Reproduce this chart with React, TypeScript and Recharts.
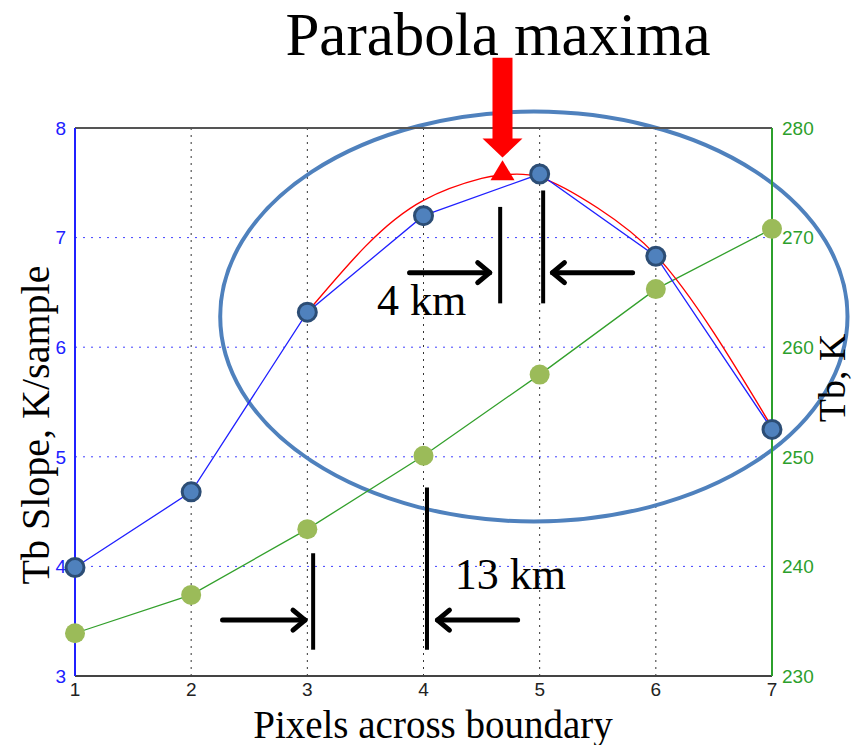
import React from 'react';
import {
  ComposedChart, Line, XAxis, YAxis, CartesianGrid,
  ReferenceLine, ReferenceArea, ReferenceDot,
} from 'recharts';

// Pixel index across the boundary
const pixels = [1, 2, 3, 4, 5, 6, 7];
// Tb slope, K/sample (left axis)
const slope = [3.99, 4.68, 6.32, 7.2, 7.58, 6.83, 5.25];
// Brightness temperature, K (right axis)
const tb = [233.9, 237.4, 243.4, 250.1, 257.5, 265.3, 270.8];
// Parabola fitted through the slope peak
const fitX = [3, 3.5, 4, 4.5, 4.68, 5, 5.5, 6, 6.5, 7];
const fitY = [6.32, 6.92, 7.34, 7.54, 7.57, 7.55, 7.27, 6.84, 6.13, 5.27];
const peak = { x: 4.68, y: 7.57 };

const leftTicks = [3, 4, 5, 6, 7, 8];
const rightTicks = [230, 240, 250, 260, 270, 280];

// annotation geometry in data units (x, left-axis y)
const barsTop = [
  { x: 4.66, y1: 7.28, y2: 6.4 },
  { x: 5.03, y1: 7.43, y2: 6.4 },
];
const arrowsTop = [
  { from: [3.88, 6.68], to: [4.57, 6.68] },
  { from: [5.8, 6.68], to: [5.11, 6.68] },
];
const barsBottom = [
  { x: 3.05, y1: 4.12, y2: 3.24 },
  { x: 4.03, y1: 4.72, y2: 3.24 },
];
const arrowsBottom = [
  { from: [2.27, 3.51], to: [2.98, 3.51] },
  { from: [4.81, 3.51], to: [4.12, 3.51] },
];
const ellipseBox = { x1: 2.25, x2: 7.65, y1: 4.41, y2: 8.15 };
const maxArrow = { x: 4.68, top: 8.64, tip: 7.73 };

const slopeData = pixels.map((x, i) => ({ x, slope: slope[i] }));
const tbData = pixels.map((x, i) => ({ x, tb: tb[i] }));
const fitData = fitX.map((x, i) => ({ x, fit: fitY[i] }));

const SERIF = "'Liberation Serif', 'DejaVu Serif', serif";
const SANS = "'Liberation Sans Narrow', 'Liberation Sans', Arial, sans-serif";

const Arrow = (p: any) => {
  const { x1, y1, x2, y2 } = p;
  const dir = Math.sign(x2 - x1);
  return (
    <g stroke="#000" strokeWidth={5} fill="none" strokeLinecap="round" strokeLinejoin="round">
      <line x1={x1} y1={y1} x2={x2} y2={y2} />
      <polyline points={`${x2 - dir * 12},${y2 - 10} ${x2},${y2} ${x2 - dir * 12},${y2 + 10}`} />
    </g>
  );
};

const RedArrow = (p: any) => {
  const { x1, y1, y2 } = p;
  const headY = y2 - 19;
  return (
    <polygon
      fill="#ff0000"
      points={`${x1 - 10},${y1} ${x1 + 10},${y1} ${x1 + 10},${headY} ${x1 + 20},${headY} ${x1},${y2} ${x1 - 20},${headY} ${x1 - 10},${headY}`}
    />
  );
};

const Ellipse = (p: any) => (
  <ellipse
    cx={p.x + p.width / 2}
    cy={p.y + p.height / 2}
    rx={p.width / 2}
    ry={p.height / 2}
    fill="none"
    stroke="#4f81bd"
    strokeWidth={4}
  />
);

const Triangle = (p: any) => (
  <polygon fill="#ff0000" points={`${p.cx},${p.cy - 15} ${p.cx + 12},${p.cy + 5} ${p.cx - 12},${p.cy + 5}`} />
);

const kmLabel = (text: string) => (p: any) => (
  <text x={p.cx} y={p.cy} fontFamily={SERIF} fontSize={44} fill="#000">{text}</text>
);

const blueDot = (p: any) => (
  <circle key={p.index} cx={p.cx} cy={p.cy} r={9} fill="#4f81bd" stroke="#2c4d75" strokeWidth={3} />
);
const greenDot = (p: any) => (
  <circle key={p.index} cx={p.cx} cy={p.cy} r={10} fill="#9bbb59" />
);

const tickFont = { fontSize: 19, fontFamily: SANS };

export default function App() {
  return (
    <div style={{ position: 'absolute', left: 0, top: 0, width: 855, height: 745, background: '#fff' }}>
      <ComposedChart width={855} height={745} margin={{ top: 128, right: 38, bottom: 44, left: 45 }}>
        <CartesianGrid yAxisId="left" vertical={false} stroke="#4040ff" strokeDasharray="2 6" horizontalValues={[4, 5, 6, 7]} />
        <CartesianGrid yAxisId="left" horizontal={false} stroke="#333" strokeDasharray="2 5" verticalValues={[2, 3, 4, 5, 6]} />
        <XAxis
          type="number"
          dataKey="x"
          domain={[1, 7]}
          ticks={pixels}
          allowDuplicatedCategory={false}
          height={25}
          stroke="#444"
          strokeWidth={2}
          tickLine={false}
          tickMargin={1}
          tick={{ fill: '#222', ...tickFont }}
        />
        <YAxis
          yAxisId="left"
          domain={[3, 8]}
          ticks={leftTicks}
          width={30}
          stroke="#2020ff"
          strokeWidth={2}
          tickLine={false}
          tickMargin={3}
          tick={{ fill: '#2020ff', ...tickFont }}
        />
        <YAxis
          yAxisId="right"
          orientation="right"
          domain={[230, 280]}
          ticks={rightTicks}
          width={45}
          stroke="#2ca02c"
          strokeWidth={2}
          tickLine={false}
          tickMargin={4}
          tick={{ fill: '#2ca02c', ...tickFont }}
        />
        <ReferenceLine yAxisId="left" y={8} stroke="#555" strokeWidth={2} />

        <Line yAxisId="right" data={tbData} dataKey="tb" stroke="#33a02c" strokeWidth={1.3} dot={greenDot} isAnimationActive={false} />
        <Line yAxisId="left" data={fitData} dataKey="fit" type="natural" stroke="#ff0000" strokeWidth={1.4} dot={false} isAnimationActive={false} />
        <Line yAxisId="left" data={slopeData} dataKey="slope" stroke="#2020ff" strokeWidth={1.3} dot={blueDot} isAnimationActive={false} />

        <ReferenceArea
          yAxisId="left"
          x1={ellipseBox.x1} x2={ellipseBox.x2} y1={ellipseBox.y1} y2={ellipseBox.y2}
          ifOverflow="visible"
          shape={Ellipse}
        />
        <ReferenceDot yAxisId="left" x={peak.x} y={peak.y} ifOverflow="visible" shape={Triangle} />
        <ReferenceLine
          yAxisId="left"
          segment={[{ x: maxArrow.x, y: maxArrow.top }, { x: maxArrow.x, y: maxArrow.tip }]}
          ifOverflow="visible"
          shape={RedArrow}
        />

        {[...barsTop, ...barsBottom].map((b, i) => (
          <ReferenceLine
            key={`bar${i}`}
            yAxisId="left"
            segment={[{ x: b.x, y: b.y1 }, { x: b.x, y: b.y2 }]}
            ifOverflow="visible"
            stroke="#000"
            strokeWidth={4}
          />
        ))}
        {[...arrowsTop, ...arrowsBottom].map((a, i) => (
          <ReferenceLine
            key={`arr${i}`}
            yAxisId="left"
            segment={[{ x: a.from[0], y: a.from[1] }, { x: a.to[0], y: a.to[1] }]}
            ifOverflow="visible"
            shape={Arrow}
          />
        ))}
        <ReferenceDot yAxisId="left" x={3.6} y={6.29} ifOverflow="visible" shape={kmLabel('4 km')} />
        <ReferenceDot yAxisId="left" x={4.27} y={3.79} ifOverflow="visible" shape={kmLabel('13 km')} />
      </ComposedChart>

      <svg width={855} height={745} style={{ position: 'absolute', left: 0, top: 0, pointerEvents: 'none' }}>
        <text x={498} y={55} textAnchor="middle" fontFamily={SERIF} fontSize={61} fill="#000">Parabola maxima</text>
        <text x={433} y={738} textAnchor="middle" fontFamily={SERIF} fontSize={39} fill="#000">Pixels across boundary</text>
        <text transform="translate(49,425) rotate(-90)" textAnchor="middle" fontFamily={SERIF} fontSize={40} fill="#000">Tb Slope, K/sample</text>
        <text transform="translate(845,378) rotate(-90)" textAnchor="middle" fontFamily={SERIF} fontSize={38} fill="#000">Tb, K</text>
      </svg>
    </div>
  );
}
